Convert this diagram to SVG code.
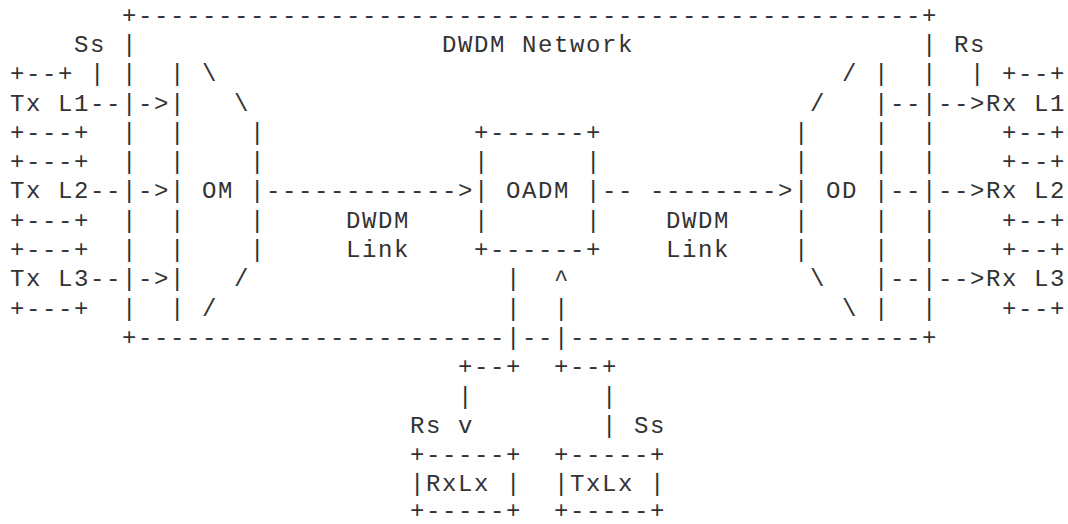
<svg xmlns="http://www.w3.org/2000/svg" width="1068" height="524" viewBox="0 0 1068 524">
<style>
text{font-family:"Liberation Mono","DejaVu Sans Mono",monospace;font-size:24px;letter-spacing:1.6px;fill:#333;white-space:pre}
</style>
<rect width="1068" height="524" fill="#fff"/>
<g id="dwdm-network">
<text x="122" y="22.6">+-------------------------------------------------+</text>
<text x="122" y="51.9">|</text><text x="442" y="51.9" xml:space="preserve">DWDM Network</text><text x="922" y="51.9">|</text>
<text x="122" y="81.2">|</text><text x="922" y="81.2">|</text>
<text x="122" y="110.5">|</text><text x="922" y="110.5">|</text>
<text x="122" y="139.8">|</text><text x="922" y="139.8">|</text>
<text x="122" y="169.1">|</text><text x="922" y="169.1">|</text>
<text x="122" y="198.4">|</text><text x="922" y="198.4">|</text>
<text x="122" y="227.7">|</text><text x="922" y="227.7">|</text>
<text x="122" y="257">|</text><text x="922" y="257">|</text>
<text x="122" y="286.3">|</text><text x="922" y="286.3">|</text>
<text x="122" y="315.6">|</text><text x="922" y="315.6">|</text>
<text x="122" y="344.9">+-----------------------</text><text x="522" y="344.9">--</text><text x="570" y="344.9">----------------------+</text>
</g>
<g id="tx-l1">
<text x="10" y="81.2">+--+</text><text x="10" y="110.5" xml:space="preserve">Tx L1</text><text x="10" y="139.8">+---+</text>
</g>
<g id="tx-l2">
<text x="10" y="169.1">+---+</text><text x="10" y="198.4" xml:space="preserve">Tx L2</text><text x="10" y="227.7">+---+</text>
</g>
<g id="tx-l3">
<text x="10" y="257">+---+</text><text x="10" y="286.3" xml:space="preserve">Tx L3</text><text x="10" y="315.6">+---+</text>
</g>
<g id="rx-l1">
<text x="1002" y="81.2">+--+</text><text x="986" y="110.5" xml:space="preserve">Rx L1</text><text x="1002" y="139.8">+--+</text>
</g>
<g id="rx-l2">
<text x="1002" y="169.1">+--+</text><text x="986" y="198.4" xml:space="preserve">Rx L2</text><text x="1002" y="227.7">+--+</text>
</g>
<g id="rx-l3">
<text x="1002" y="257">+--+</text><text x="986" y="286.3" xml:space="preserve">Rx L3</text><text x="1002" y="315.6">+--+</text>
</g>
<g id="om">
<text x="170" y="81.2">|</text><text x="202" y="81.2">\</text>
<text x="170" y="110.5">|</text><text x="234" y="110.5">\</text>
<text x="170" y="139.8">|</text><text x="250" y="139.8">|</text>
<text x="170" y="169.1">|</text><text x="250" y="169.1">|</text>
<text x="170" y="198.4">|</text><text x="202" y="198.4">OM</text><text x="250" y="198.4">|</text>
<text x="170" y="227.7">|</text><text x="250" y="227.7">|</text>
<text x="170" y="257">|</text><text x="250" y="257">|</text>
<text x="170" y="286.3">|</text><text x="234" y="286.3">/</text>
<text x="170" y="315.6">|</text><text x="202" y="315.6">/</text>
</g>
<g id="oadm">
<text x="474" y="139.8">+------+</text>
<text x="474" y="169.1">|</text><text x="586" y="169.1">|</text>
<text x="474" y="198.4">|</text><text x="506" y="198.4">OADM</text><text x="586" y="198.4">|</text>
<text x="474" y="227.7">|</text><text x="586" y="227.7">|</text>
<text x="474" y="257">+------+</text>
</g>
<g id="od">
<text x="842" y="81.2">/</text><text x="874" y="81.2">|</text>
<text x="810" y="110.5">/</text><text x="874" y="110.5">|</text>
<text x="794" y="139.8">|</text><text x="874" y="139.8">|</text>
<text x="794" y="169.1">|</text><text x="874" y="169.1">|</text>
<text x="794" y="198.4">|</text><text x="826" y="198.4">OD</text><text x="874" y="198.4">|</text>
<text x="794" y="227.7">|</text><text x="874" y="227.7">|</text>
<text x="794" y="257">|</text><text x="874" y="257">|</text>
<text x="810" y="286.3">\</text><text x="874" y="286.3">|</text>
<text x="842" y="315.6">\</text><text x="874" y="315.6">|</text>
</g>
<g id="rxlx">
<text x="410" y="462.1">+-----+</text><text x="410" y="491.4" xml:space="preserve">|RxLx |</text><text x="410" y="518">+-----+</text>
</g>
<g id="txlx">
<text x="554" y="462.1">+-----+</text><text x="554" y="491.4" xml:space="preserve">|TxLx |</text><text x="554" y="518">+-----+</text>
</g>
<g id="connectors">
<text x="74" y="51.9">Ss</text><text x="90" y="81.2">|</text>
<text x="954" y="51.9">Rs</text><text x="970" y="81.2">|</text>
<text x="90" y="110.5">--</text><text x="138" y="110.5">-&gt;</text>
<text x="90" y="198.4">--</text><text x="138" y="198.4">-&gt;</text>
<text x="90" y="286.3">--</text><text x="138" y="286.3">-&gt;</text>
<text x="890" y="110.5">--</text><text x="938" y="110.5">--&gt;</text>
<text x="890" y="198.4">--</text><text x="938" y="198.4">--&gt;</text>
<text x="890" y="286.3">--</text><text x="938" y="286.3">--&gt;</text>
<text x="266" y="198.4">------------&gt;</text>
<text x="602" y="198.4">--</text><text x="650" y="198.4">--------&gt;</text>
<text x="346" y="227.7">DWDM</text><text x="346" y="257">Link</text>
<text x="666" y="227.7">DWDM</text><text x="666" y="257">Link</text>
<text x="506" y="286.3">|</text><text x="554" y="286.3">^</text>
<text x="506" y="315.6">|</text><text x="554" y="315.6">|</text>
<text x="506" y="344.9">|</text><text x="554" y="344.9">|</text>
<text x="458" y="374.2">+--+</text><text x="554" y="374.2">+--+</text>
<text x="458" y="403.5">|</text><text x="602" y="403.5">|</text>
<text x="410" y="432.8">Rs</text><text x="458" y="432.8">v</text><text x="602" y="432.8">|</text><text x="634" y="432.8">Ss</text>
</g>
</svg>
